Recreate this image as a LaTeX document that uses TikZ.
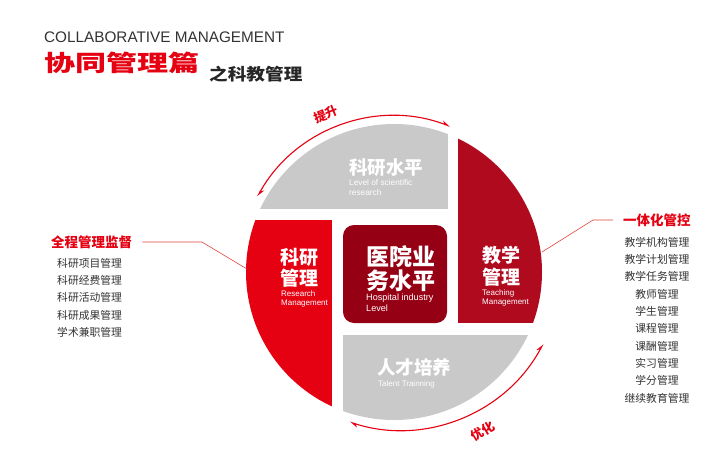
\documentclass[tikz,border=0pt]{standalone}
\usepackage{fontspec}
\setmainfont{Liberation Sans}
\newfontfamily\cjk{Noto Sans CJK SC}
\usetikzlibrary{arrows.meta,calc}
\definecolor{brred}{HTML}{E50012}
\definecolor{dkred}{HTML}{B00A1F}
\definecolor{ctred}{HTML}{960014}
\definecolor{segray}{HTML}{C9C9C9}
\definecolor{txgray}{HTML}{333333}
\definecolor{lnred}{HTML}{E2453E}
\begin{document}
\begin{tikzpicture}[x=1pt,y=-1pt,
  segcjk/.style={anchor=west,text=white,align=left,inner sep=0pt,font=\cjk\bfseries\fontsize{19}{21}\selectfont},
  segen/.style={anchor=west,text=white,align=left,inner sep=0pt,font=\fontsize{8}{9}\selectfont},
  listitem/.style={inner sep=0pt,text=txgray,font=\cjk\fontsize{10.8}{12}\selectfont},
  listhead/.style={inner sep=0pt,text=brred,font=\cjk\bfseries\fontsize{13.5}{15}\selectfont},
  arclabel/.style={inner sep=0pt,text=brred,font=\cjk\bfseries\fontsize{12.5}{13}\selectfont},
  cycle arrow/.style={draw=brred,line width=1.1pt,{Stealth[length=7pt,width=6pt,harpoon]}-{Stealth[length=7pt,width=6pt,harpoon]}},
  conn/.style={draw=lnred,line width=0.6pt}]
\useasboundingbox[fill=white] (0,0) rectangle (720,450);

% title
\node[anchor=west,inner sep=0pt,text=txgray,font=\fontsize{15.3}{16}\selectfont] (entitle) at (44,37) {COLLABORATIVE MANAGEMENT};
\node[anchor=west,inner sep=0pt,text=brred,font=\cjk\bfseries\fontsize{22.5}{24}\selectfont] (cntitle) at (44,63) {\scalebox{1.38}[1]{协同管理篇}};
\node[anchor=west,inner sep=0pt,text=black!85,font=\cjk\bfseries\fontsize{16.5}{18}\selectfont] (subtitle) at (209,74) {\scalebox{1.13}[1]{之科教管理}};

% circle segments
\coordinate (C) at (394,272);
\begin{scope}
  \clip (C) circle[radius=148];
  \fill[segray] (200,100) rectangle (448,209);
  \fill[dkred] (458,100) rectangle (600,323);
  \fill[segray] (343,335) rectangle (600,460);
  \fill[brred] (200,220) rectangle (332,460);
\end{scope}
\fill[ctred,rounded corners=11pt] (343,225) rectangle (447,323);

% segment texts
\node[segcjk,font=\cjk\bfseries\fontsize{18.5}{20}\selectfont] (topcn) at (349,168) {科研水平};
\node[segen,font=\fontsize{8.3}{9.5}\selectfont] (topen) at (349,187.5) {Level of scientific\\research};
\node[segcjk] (leftcn) at (280,267.5) {科研\\管理};
\node[segen] (leften) at (281,298.5) {Research\\Management};
\node[segcjk,font=\cjk\bfseries\fontsize{23}{23.5}\selectfont] (midcn) at (366,268.5) {医院业\\务水平};
\node[segen,font=\fontsize{9.1}{11}\selectfont] (miden) at (366,302.5) {Hospital industry\\Level};
\node[segcjk,font=\cjk\bfseries\fontsize{19}{22}\selectfont] (rightcn) at (482,266) {教学\\管理};
\node[segen] (righten) at (482,297.5) {Teaching\\Management};
\node[segcjk,font=\cjk\bfseries\fontsize{18.5}{20}\selectfont] (botcn) at (377,367) {人才培养};
\node[segen] (boten) at (378,384) {Talent Trainning};

% cycle arrows
\draw[cycle arrow] ($(C)+(-69:156)$) arc[start angle=-69,end angle=-151,radius=156];
\draw[cycle arrow] ($(400,268)+(28:162)$) arc[start angle=28,end angle=108,radius=162];
\node[arclabel,rotate=22] (up) at (326,114) {提升};
\node[arclabel,rotate=32] (opt) at (483,431) {优化};

% left list
\node[listhead,anchor=west] (lhead) at (51,242) {全程管理监督};
\foreach \t [count=\i from 0] in {科研项目管理,科研经费管理,科研活动管理,科研成果管理,学术兼职管理}
  \node[listitem,anchor=west] (litem\i) at (57,263+17.4*\i) {\t};
\coordinate (l1) at (202,242);
\coordinate (l2) at (247,269);
\draw[conn] ([xshift=10pt]lhead.east) -- (l1) -- (l2);

% right list
\node[listhead,anchor=west] (rhead) at (623,220) {一体化管控};
\foreach \t [count=\i from 0] in {教学机构管理,教学计划管理,教学任务管理,教师管理,学生管理,课程管理,课酬管理,实习管理,学分管理,继续教育管理}
  \node[listitem] (ritem\i) at (657,242+17.33*\i) {\t};
\coordinate (r1) at (593,220);
\coordinate (r2) at (542,252);
\draw[conn] ([xshift=-10pt]rhead.west) -- (r1) -- (r2);
\end{tikzpicture}
\end{document}
